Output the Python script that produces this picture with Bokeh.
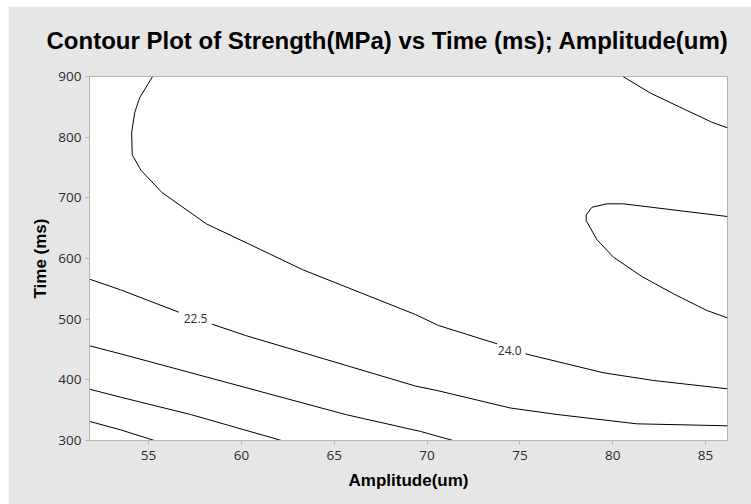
from bokeh.plotting import figure
from bokeh.models import Range1d, FixedTicker, ColumnDataSource
from bokeh.embed import file_html
from bokeh.resources import INLINE
from bokeh.core.properties import value

# ---- data (Amplitude um, Time ms) ----
title_text = "Contour Plot of Strength(MPa) vs Time (ms); Amplitude(um)"
x_ticks = [55, 60, 65, 70, 75, 80, 85]
y_ticks = [300, 400, 500, 600, 700, 800, 900]

c180_x = [51.82, 53.49, 55.32]
c180_y = [331.5, 317.6, 300.0]

c195_x = [51.82, 53.49, 57.26, 62.16]
c195_y = [384.6, 371.4, 342.9, 300.0]

c210_x = [51.82, 53.49, 65.60, 69.64, 71.40]
c210_y = [456.1, 442.9, 342.9, 315.0, 300.0]

c225a_x = [51.82, 53.49, 56.63]
c225a_y = [566.0, 548.4, 511.5]
c225b_x = [58.43, 60.22, 69.37, 70.54, 74.48, 77.00, 81.30, 86.18]
c225b_y = [491.7, 473.1, 389.8, 382.4, 353.6, 342.9, 327.5, 324.2]

c240a_x = [55.22, 54.52, 54.26, 54.09, 54.12, 54.59, 55.72, 58.12, 61.03, 63.30, 69.37, 70.62, 73.77]
c240a_y = [900.0, 864.9, 841.0, 808.0, 771.0, 745.5, 708.8, 657.0, 614.8, 581.5, 507.7, 489.5, 459.4]
c240b_x = [75.29, 79.50, 82.20, 86.18]
c240b_y = [442.9, 411.6, 398.9, 385.2]

c255a_x = [86.18, 80.58, 79.69, 78.88, 78.57, 78.57, 79.14, 80.04, 81.57, 83.27, 85.07, 86.18]
c255a_y = [669.2, 690.1, 690.1, 684.5, 672.0, 662.6, 631.3, 602.1, 570.3, 541.8, 514.3, 502.2]
c255b_x = [80.55, 82.02, 83.81, 85.34, 86.18]
c255b_y = [900.0, 872.8, 846.7, 824.6, 815.4]

label_text = ["22.5", "24.0"]
label_x = [57.53, 74.45]
label_y = [500.3, 448.3]

# ---- figure ----
p = figure(width=743, height=498, output_backend="svg", toolbar_location=None,
           x_range=Range1d(51.82, 86.18), y_range=Range1d(300, 900),
           min_border_left=81, min_border_right=24, min_border_top=70, min_border_bottom=64,
           margin=(6, 0, 0, 8))

p.border_fill_color = "#e6e6e6"
p.background_fill_color = "white"
p.outline_line_color = "#b4b4b4"
p.grid.visible = False

p.title.text = title_text
p.title.text_font = "Liberation Sans"
p.title.text_font_style = "bold"
p.title.text_font_size = "24px"
p.title.text_color = "black"
p.title.align = "left"
p.title.offset = -43
p.title.vertical_align = "top"
p.title.standoff = 41

for ax in (p.xaxis[0], p.yaxis[0]):
    ax.axis_line_color = "#b4b4b4"
    ax.major_tick_line_color = "#b4b4b4"
    ax.minor_tick_line_color = None
    ax.major_tick_in = 0
    ax.major_tick_out = 4
    ax.major_label_text_font = "Open Sans"
    ax.major_label_text_font_size = "13.5px"
    ax.major_label_text_color = "#2b2b2b"
    ax.major_label_standoff = 4
    ax.axis_label_text_font = "Liberation Sans"
    ax.axis_label_text_font_style = "bold"
    ax.axis_label_text_font_size = "17px"
    ax.axis_label_text_color = "black"
    ax.axis_label_standoff = 5

p.xaxis[0].major_label_standoff = 6
p.xaxis[0].axis_label_standoff = 8

p.xaxis[0].ticker = FixedTicker(ticks=x_ticks)
p.yaxis[0].ticker = FixedTicker(ticks=y_ticks)
p.xaxis[0].axis_label = "Amplitude(um)"
p.yaxis[0].axis_label = "Time (ms)"

xs = [c180_x, c195_x, c210_x, c225a_x, c225b_x, c240a_x, c240b_x, c255a_x, c255b_x]
ys = [c180_y, c195_y, c210_y, c225a_y, c225b_y, c240a_y, c240b_y, c255a_y, c255b_y]
p.multi_line(xs=xs, ys=ys, line_color="black", line_width=1)

src = ColumnDataSource(dict(x=label_x, y=label_y, t=label_text))
p.text(x="x", y="y", text="t", source=src, text_align="center", text_baseline="middle",
       text_font=value("Open Sans"), text_font_size="12px", text_color="#2b2b2b")

open("out.html", "w").write(file_html(p, INLINE))
